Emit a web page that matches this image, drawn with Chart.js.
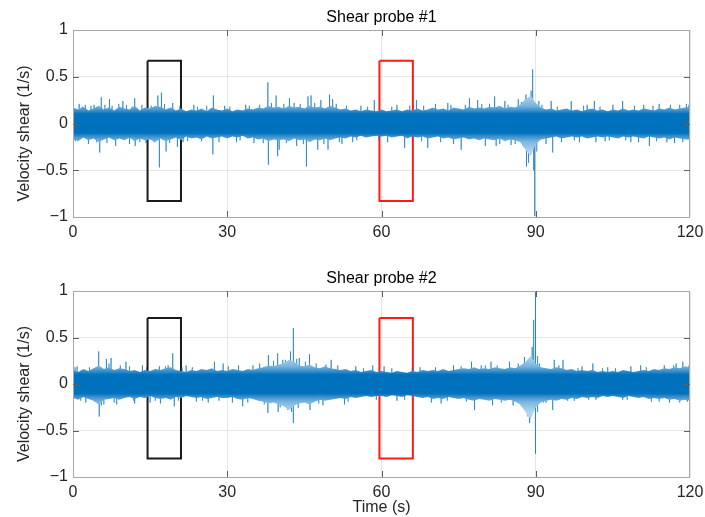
<!DOCTYPE html>
<html lang="en">
<head>
<meta charset="UTF-8" />
<title>Shear probes</title>
<script src="https://cdn.jsdelivr.net/npm/chart.js"></script>
<style>
    body { margin: 0; background: #fff; }
    #wrap { position: relative; width: 705px; height: 517px; }
    canvas { position: absolute; left: 0; }
    #probe1 { top: 0; }
    #probe2 { top: 258px; }
</style>
</head>
<body>
<div id="wrap">
    <canvas id="probe1" width="705" height="258"></canvas>
    <canvas id="probe2" width="705" height="259"></canvas>
</div>
<script>
    // envelope of the dense band, one value per second (0..120 s)
    const envTimes = Array.from({ length: 121 }, (_, i) => i);

    const probe1Upper = [
        0.17,0.15,0.18,0.14,0.16,0.19,0.15,0.17,0.14,0.18,
        0.16,0.15,0.19,0.14,0.17,0.16,0.19,0.18,0.15,0.17,
        0.14,0.16,0.13,0.15,0.14,0.16,0.13,0.17,0.15,0.14,
        0.16,0.13,0.15,0.14,0.16,0.15,0.17,0.16,0.19,0.17,
        0.18,0.16,0.19,0.17,0.18,0.16,0.19,0.17,0.18,0.16,
        0.19,0.17,0.15,0.16,0.14,0.15,0.13,0.15,0.14,0.13,
        0.15,0.13,0.14,0.15,0.13,0.15,0.14,0.16,0.14,0.15,
        0.17,0.15,0.16,0.14,0.17,0.16,0.15,0.18,0.16,0.17,
        0.16,0.18,0.17,0.19,0.16,0.18,0.17,0.20,0.26,0.30,
        0.22,0.17,0.15,0.16,0.14,0.15,0.16,0.14,0.15,0.13,
        0.15,0.16,0.14,0.15,0.13,0.15,0.14,0.16,0.14,0.15,
        0.14,0.16,0.15,0.14,0.16,0.15,0.17,0.15,0.16,0.17,
        0.18
    ];
    const probe1Lower = [
        -0.17,-0.19,-0.15,-0.18,-0.16,-0.20,-0.17,-0.15,-0.18,-0.16,
        -0.18,-0.15,-0.19,-0.16,-0.18,-0.17,-0.20,-0.16,-0.19,-0.17,
        -0.15,-0.18,-0.14,-0.16,-0.15,-0.17,-0.14,-0.16,-0.15,-0.14,
        -0.16,-0.14,-0.15,-0.13,-0.16,-0.15,-0.17,-0.16,-0.19,-0.17,
        -0.18,-0.17,-0.19,-0.16,-0.18,-0.17,-0.20,-0.17,-0.18,-0.16,
        -0.18,-0.16,-0.15,-0.16,-0.14,-0.15,-0.13,-0.15,-0.14,-0.13,
        -0.14,-0.13,-0.15,-0.14,-0.13,-0.16,-0.14,-0.15,-0.14,-0.16,
        -0.15,-0.14,-0.16,-0.15,-0.17,-0.16,-0.15,-0.17,-0.16,-0.18,
        -0.16,-0.17,-0.18,-0.16,-0.19,-0.17,-0.18,-0.20,-0.28,-0.35,
        -0.22,-0.17,-0.16,-0.15,-0.14,-0.16,-0.15,-0.14,-0.15,-0.14,
        -0.16,-0.15,-0.14,-0.15,-0.14,-0.15,-0.16,-0.14,-0.15,-0.14,
        -0.15,-0.16,-0.14,-0.15,-0.16,-0.15,-0.17,-0.15,-0.16,-0.17,
        -0.17
    ];
    const probe2Upper = [
        0.15,0.13,0.16,0.14,0.17,0.20,0.16,0.18,0.15,0.17,
        0.16,0.14,0.15,0.13,0.15,0.14,0.16,0.15,0.17,0.18,
        0.15,0.14,0.13,0.15,0.14,0.16,0.15,0.17,0.14,0.15,
        0.14,0.16,0.15,0.14,0.16,0.15,0.17,0.18,0.20,0.19,
        0.21,0.22,0.26,0.24,0.20,0.19,0.21,0.18,0.17,0.19,
        0.17,0.16,0.15,0.16,0.14,0.15,0.13,0.14,0.15,0.13,
        0.14,0.13,0.12,0.14,0.13,0.12,0.14,0.13,0.15,0.14,
        0.15,0.14,0.16,0.14,0.15,0.16,0.17,0.16,0.18,0.16,
        0.17,0.16,0.18,0.17,0.16,0.18,0.17,0.20,0.24,0.30,
        0.22,0.18,0.17,0.16,0.18,0.17,0.15,0.16,0.14,0.15,
        0.14,0.15,0.13,0.14,0.13,0.14,0.13,0.15,0.14,0.13,
        0.14,0.15,0.14,0.16,0.15,0.17,0.16,0.18,0.17,0.19,
        0.18
    ];
    const probe2Lower = [
        -0.15,-0.17,-0.14,-0.16,-0.18,-0.22,-0.17,-0.16,-0.15,-0.17,
        -0.15,-0.14,-0.16,-0.14,-0.15,-0.13,-0.15,-0.16,-0.15,-0.17,
        -0.14,-0.15,-0.13,-0.14,-0.15,-0.14,-0.16,-0.15,-0.14,-0.15,
        -0.15,-0.14,-0.16,-0.17,-0.15,-0.16,-0.18,-0.19,-0.21,-0.20,
        -0.22,-0.24,-0.28,-0.23,-0.21,-0.20,-0.22,-0.19,-0.17,-0.18,
        -0.17,-0.16,-0.15,-0.16,-0.14,-0.15,-0.14,-0.13,-0.14,-0.13,
        -0.13,-0.14,-0.12,-0.13,-0.14,-0.12,-0.13,-0.14,-0.15,-0.14,
        -0.16,-0.15,-0.16,-0.14,-0.15,-0.16,-0.15,-0.17,-0.18,-0.16,
        -0.17,-0.18,-0.16,-0.17,-0.18,-0.17,-0.19,-0.22,-0.30,-0.38,
        -0.25,-0.20,-0.18,-0.17,-0.18,-0.16,-0.17,-0.15,-0.16,-0.14,
        -0.15,-0.14,-0.15,-0.13,-0.14,-0.13,-0.14,-0.15,-0.13,-0.14,
        -0.15,-0.14,-0.16,-0.15,-0.16,-0.15,-0.17,-0.16,-0.18,-0.17,
        -0.18
    ];

    // isolated spikes sticking out of the band (time in s, peak value)
    const probe1SpikeT = [1.2,3.0,4.1,5.2,5.5,7.1,8.3,9.7,11.0,12.0,12.1,14.2,16.5,16.8,17.2,18.1,19.4,20.3,21.4,23.5,
        25.0,27.2,27.3,29.5,31.8,33.6,35.2,37.9,38.0,39.5,39.8,40.1,42.1,43.5,45.4,45.7,46.3,47.6,48.2,49.6,
        49.9,50.5,52.3,54.4,56.0,58.6,61.2,63.0,64.5,66.8,69.0,70.5,72.9,74.0,75.5,77.1,78.7,80.2,82.0,82.3,
        84.0,85.2,86.6,88.1,88.2,88.6,89.1,89.4,89.6,89.8,90.6,92.0,93.0,93.3,95.0,96.9,98.5,100.0,101.4,101.7,
        103.5,105.0,106.9,108.5,110.0,111.0,112.1,114.0,115.5,117.0,118.0,119.8];
    const probe1SpikeV = [0.21,-0.22,0.20,-0.31,0.28,0.26,-0.24,0.24,-0.22,0.27,-0.24,-0.21,0.30,-0.47,0.33,-0.30,0.22,-0.25,-0.20,0.20,
        -0.19,-0.33,0.30,0.19,-0.20,0.20,-0.21,0.44,-0.44,0.30,-0.35,-0.28,0.27,-0.24,-0.46,0.29,0.30,-0.28,0.25,-0.28,
        0.31,0.26,-0.22,-0.20,0.19,0.25,-0.20,0.20,-0.26,0.25,-0.26,0.21,0.22,-0.22,-0.28,0.27,0.25,-0.24,0.29,-0.24,
        0.24,-0.23,0.26,0.31,-0.46,-0.42,0.35,0.58,-0.50,-0.99,0.24,-0.22,0.24,-0.31,-0.20,0.24,-0.20,0.20,0.24,-0.20,
        -0.19,0.20,0.24,-0.20,-0.20,0.20,-0.24,0.21,-0.20,-0.21,0.20,0.20];
    // short excursions that make the ragged fringe of the band
    const probe1FringeT = [0.5,1.8,2.4,3.5,4.6,6.2,6.6,7.6,8.9,10.4,11.5,13.0,13.4,15.2,15.8,17.8,18.8,20.8,22.3,24.2,
        26.0,28.4,30.5,32.5,34.3,36.3,37.0,38.6,41.0,41.5,43.0,44.2,44.8,47.0,48.8,51.2,51.8,53.2,55.2,57.3,
        59.5,62.0,65.5,67.8,68.2,71.5,73.5,76.3,79.5,81.0,83.0,84.6,86.0,87.2,87.6,90.2,91.2,94.2,97.5,99.3,
        102.5,104.3,107.5,109.2,112.8,113.5,116.2,118.6,119.3];
    const probe1FringeV = [-0.19,0.18,0.20,0.19,-0.20,0.20,-0.21,0.19,0.21,0.20,0.18,-0.20,0.20,0.19,-0.20,0.21,-0.21,0.19,-0.19,0.18,
        0.19,-0.20,0.18,-0.18,0.19,0.20,-0.21,0.22,0.21,-0.21,0.22,0.21,-0.22,0.22,-0.22,0.21,-0.20,0.19,-0.18,0.18,
        -0.18,0.18,0.19,-0.19,0.19,-0.20,0.20,0.20,0.21,0.21,-0.22,0.20,-0.22,0.23,-0.25,-0.30,0.20,0.18,-0.18,0.19,
        0.18,-0.18,-0.18,0.19,0.19,-0.19,0.20,-0.20,0.21];

    const probe2SpikeT = [0.8,2.5,5.0,5.1,5.5,6.5,7.4,8.5,10.3,12.0,13.5,15.0,16.8,17.0,18.5,19.4,19.7,22.0,24.0,26.3,
        27.5,29.2,31.0,33.0,35.0,37.9,38.0,39.8,39.9,40.8,42.3,42.5,42.8,42.9,44.0,46.0,46.1,48.6,50.2,52.8,
        55.0,58.3,60.5,63.0,66.0,69.7,71.6,74.0,77.5,78.1,79.4,81.3,81.6,84.9,85.6,87.8,88.5,88.8,89.3,89.6,
        89.9,89.95,90.0,90.7,92.0,93.3,93.6,95.3,97.5,99.0,101.1,101.7,104.0,106.9,108.5,110.4,112.5,115.0,116.0,117.3,
        118.6,119.5];
    const probe2SpikeV = [0.19,-0.20,0.35,-0.35,-0.23,0.27,0.28,-0.22,0.24,-0.21,0.20,-0.20,0.19,-0.21,0.20,0.33,-0.24,0.20,-0.19,-0.20,
        0.24,0.22,-0.20,-0.24,0.20,-0.31,0.31,0.33,-0.30,0.26,0.35,-0.30,0.60,-0.42,0.28,0.32,-0.28,-0.23,0.26,-0.22,
        0.19,0.20,0.19,-0.18,0.18,-0.20,-0.21,0.20,0.24,-0.28,0.20,0.24,-0.23,0.24,-0.23,0.29,-0.35,-0.42,0.40,0.69,
        0.99,-0.53,-0.75,0.22,-0.20,-0.28,0.26,0.26,-0.18,0.19,0.22,-0.17,0.18,-0.17,0.19,0.20,-0.19,0.20,-0.20,0.22,
        0.24,-0.19];
    const probe2FringeT = [0.4,1.5,3.2,4.2,6.0,7.0,8.0,9.2,11.0,11.8,14.3,16.0,18.0,20.5,21.2,23.2,25.2,28.4,30.2,32.2,
        34.0,36.3,37.2,39.0,40.3,41.3,41.8,43.5,43.8,45.2,47.3,47.8,49.2,51.5,53.5,56.5,59.0,62.0,64.5,67.5,
        70.5,72.8,75.5,76.5,80.2,82.5,83.3,86.6,87.2,90.3,90.4,91.5,94.5,96.2,98.2,100.3,103.0,105.5,107.8,111.5,
        114.0,116.8,118.0,119.8];
    const probe2FringeV = [0.18,-0.18,0.18,-0.19,-0.22,0.22,-0.20,0.20,0.19,-0.18,0.18,-0.18,0.19,-0.18,0.18,0.18,-0.18,-0.18,0.19,0.20,
        -0.20,0.22,-0.22,0.25,-0.25,0.26,-0.28,0.27,-0.26,0.24,0.22,-0.21,0.21,0.20,-0.19,0.17,-0.17,0.17,-0.17,0.18,
        0.18,-0.18,0.19,-0.19,0.20,0.20,-0.20,0.22,-0.24,0.30,-0.30,-0.20,0.20,-0.18,0.17,-0.17,0.17,0.17,-0.17,0.18,
        -0.19,0.20,-0.20,0.20];

    // highlighted windows: [t start, t end]
    const boxTimes = [[14.5, 21.0], [59.6, 66.1]];
    const boxColors = ['#1a1a1a', '#ff1a1a'];
    const probe1BoxY = [-0.83, 0.67];
    const probe2BoxY = [-0.80, 0.71];

    const xTicks = [0, 30, 60, 90, 120];
    const yTicks = [-1, -0.5, 0, 0.5, 1];

    const FONT = '"Liberation Sans", Arial, Helvetica, sans-serif';
    const SIGNAL = '#0072BD';

    function pts(xs, ys) {
        return xs.map((x, i) => ({ x: x, y: ys[i] }));
    }

    function spikePoints(ts, vs) {
        const out = [];
        ts.forEach((t, i) => {
            out.push({ x: t, y: 0 }, { x: t, y: vs[i] }, { x: t, y: 0 });
        });
        return out;
    }

    function boxPoints(tt, yy) {
        return [
            { x: tt[0], y: yy[1] }, { x: tt[1], y: yy[1] },
            { x: tt[1], y: yy[0] }, { x: tt[0], y: yy[0] },
            { x: tt[0], y: yy[1] }
        ];
    }

    // dark core fading to a lighter fringe, like many overplotted thin lines
    function bandFill(context) {
        const chart = context.chart;
        if (!chart.chartArea) return SIGNAL;
        const ys = chart.scales.y;
        const g = chart.ctx.createLinearGradient(0, ys.getPixelForValue(0.3), 0, ys.getPixelForValue(-0.3));
        g.addColorStop(0.0, '#b3d5ee');
        g.addColorStop(0.18, '#7ab6e0');
        g.addColorStop(0.27, '#3a8fcb');
        g.addColorStop(0.33, SIGNAL);
        g.addColorStop(0.67, SIGNAL);
        g.addColorStop(0.73, '#3a8fcb');
        g.addColorStop(0.82, '#7ab6e0');
        g.addColorStop(1.0, '#b3d5ee');
        return g;
    }

    // title, y label, axes box and inward ticks like MATLAB
    const probeDecor = {
        id: 'probeDecor',
        afterDatasetsDraw(chart, args, opts) {
            const ctx = chart.ctx;
            const a = chart.chartArea;
            const xs = chart.scales.x, ys = chart.scales.y;
            ctx.save();
            ctx.strokeStyle = '#a8a8a8';
            ctx.lineWidth = 1;
            ctx.strokeRect(Math.round(a.left) + 0.5, Math.round(a.top) + 0.5,
                Math.round(a.right - a.left) - 1, Math.round(a.bottom - a.top));
            ctx.strokeStyle = '#606060';
            ctx.beginPath();
            xTicks.slice(1, -1).forEach(v => {
                const px = Math.round(xs.getPixelForValue(v)) + 0.5;
                ctx.moveTo(px, a.bottom); ctx.lineTo(px, a.bottom - 6);
                ctx.moveTo(px, a.top); ctx.lineTo(px, a.top + 6);
            });
            yTicks.slice(1, -1).forEach(v => {
                const py = Math.round(ys.getPixelForValue(v)) + 0.5;
                ctx.moveTo(a.left, py); ctx.lineTo(a.left + 6, py);
                ctx.moveTo(a.right, py); ctx.lineTo(a.right - 6, py);
            });
            ctx.stroke();
            ctx.restore();
        },
        afterDraw(chart, args, opts) {
            const ctx = chart.ctx;
            const a = chart.chartArea;
            ctx.save();
            ctx.font = '16px ' + FONT;
            ctx.textAlign = 'center';
            ctx.textBaseline = 'middle';
            ctx.fillStyle = '#000';
            ctx.fillText(opts.title, (a.left + a.right) / 2, a.top - 12);
            ctx.fillStyle = '#262626';
            ctx.translate(25, (a.top + a.bottom) / 2 + 10);
            ctx.rotate(-Math.PI / 2);
            ctx.fillText('Velocity shear (1/s)', 0, 0);
            ctx.restore();
        }
    };

    function makeProbe(id, cfg) {
        const datasets = [
            {
                data: pts(envTimes, cfg.upper),
                borderWidth: 0,
                backgroundColor: bandFill,
                fill: '+1',
                pointRadius: 0
            },
            {
                data: pts(envTimes, cfg.lower),
                borderWidth: 0,
                fill: false,
                pointRadius: 0
            },
            {
                data: spikePoints(cfg.fringeT, cfg.fringeV),
                borderColor: 'rgba(0,114,189,0.55)',
                borderWidth: 1,
                fill: false,
                pointRadius: 0
            },
            {
                data: spikePoints(cfg.spikeT, cfg.spikeV),
                borderColor: 'rgba(0,114,189,0.6)',
                borderWidth: 1,
                fill: false,
                pointRadius: 0
            }
        ];
        boxTimes.forEach((tt, i) => {
            datasets.push({
                data: boxPoints(tt, cfg.boxY),
                borderColor: boxColors[i],
                borderWidth: 2,
                fill: false,
                pointRadius: 0
            });
        });

        return new Chart(document.getElementById(id), {
            type: 'line',
            data: { datasets: datasets },
            options: {
                responsive: false,
                animation: false,
                events: [],
                layout: { padding: { top: cfg.padTop, right: 15, left: 0, bottom: 0 } },
                plugins: {
                    legend: { display: false },
                    tooltip: { enabled: false },
                    probeDecor: { title: cfg.title }
                },
                scales: {
                    x: {
                        type: 'linear',
                        min: 0,
                        max: 120,
                        afterBuildTicks: s => { s.ticks = xTicks.map(v => ({ value: v })); },
                        afterFit: s => { s.height = cfg.xHeight; s.paddingLeft = 0; s.paddingRight = 0; },
                        grid: { color: '#e6e6e6', drawTicks: false },
                        border: { display: false },
                        ticks: { color: '#262626', font: { family: FONT, size: 16 }, padding: 6, maxRotation: 0 },
                        title: {
                            display: cfg.showTime,
                            text: 'Time (s)',
                            color: '#262626',
                            font: { family: FONT, size: 16 },
                            padding: { top: 0, bottom: 0 }
                        }
                    },
                    y: {
                        min: -1,
                        max: 1,
                        afterBuildTicks: s => { s.ticks = yTicks.map(v => ({ value: v })); },
                        afterFit: s => { s.width = 73; s.paddingTop = 0; s.paddingBottom = 0; },
                        grid: { color: '#e6e6e6', drawTicks: false },
                        border: { display: false },
                        ticks: {
                            color: '#262626',
                            font: { family: FONT, size: 16 },
                            padding: 5,
                            callback: v => String(v).replace('-', '\u2212')
                        }
                    }
                }
            },
            plugins: [probeDecor]
        });
    }

    makeProbe('probe1', {
        title: 'Shear probe #1',
        upper: probe1Upper, lower: probe1Lower,
        spikeT: probe1SpikeT, spikeV: probe1SpikeV,
        fringeT: probe1FringeT, fringeV: probe1FringeV,
        boxY: probe1BoxY,
        padTop: 30, xHeight: 41, showTime: false
    });
    makeProbe('probe2', {
        title: 'Shear probe #2',
        upper: probe2Upper, lower: probe2Lower,
        spikeT: probe2SpikeT, spikeV: probe2SpikeV,
        fringeT: probe2FringeT, fringeV: probe2FringeV,
        boxY: probe2BoxY,
        padTop: 33, xHeight: 40, showTime: true
    });
</script>
</body>
</html>
